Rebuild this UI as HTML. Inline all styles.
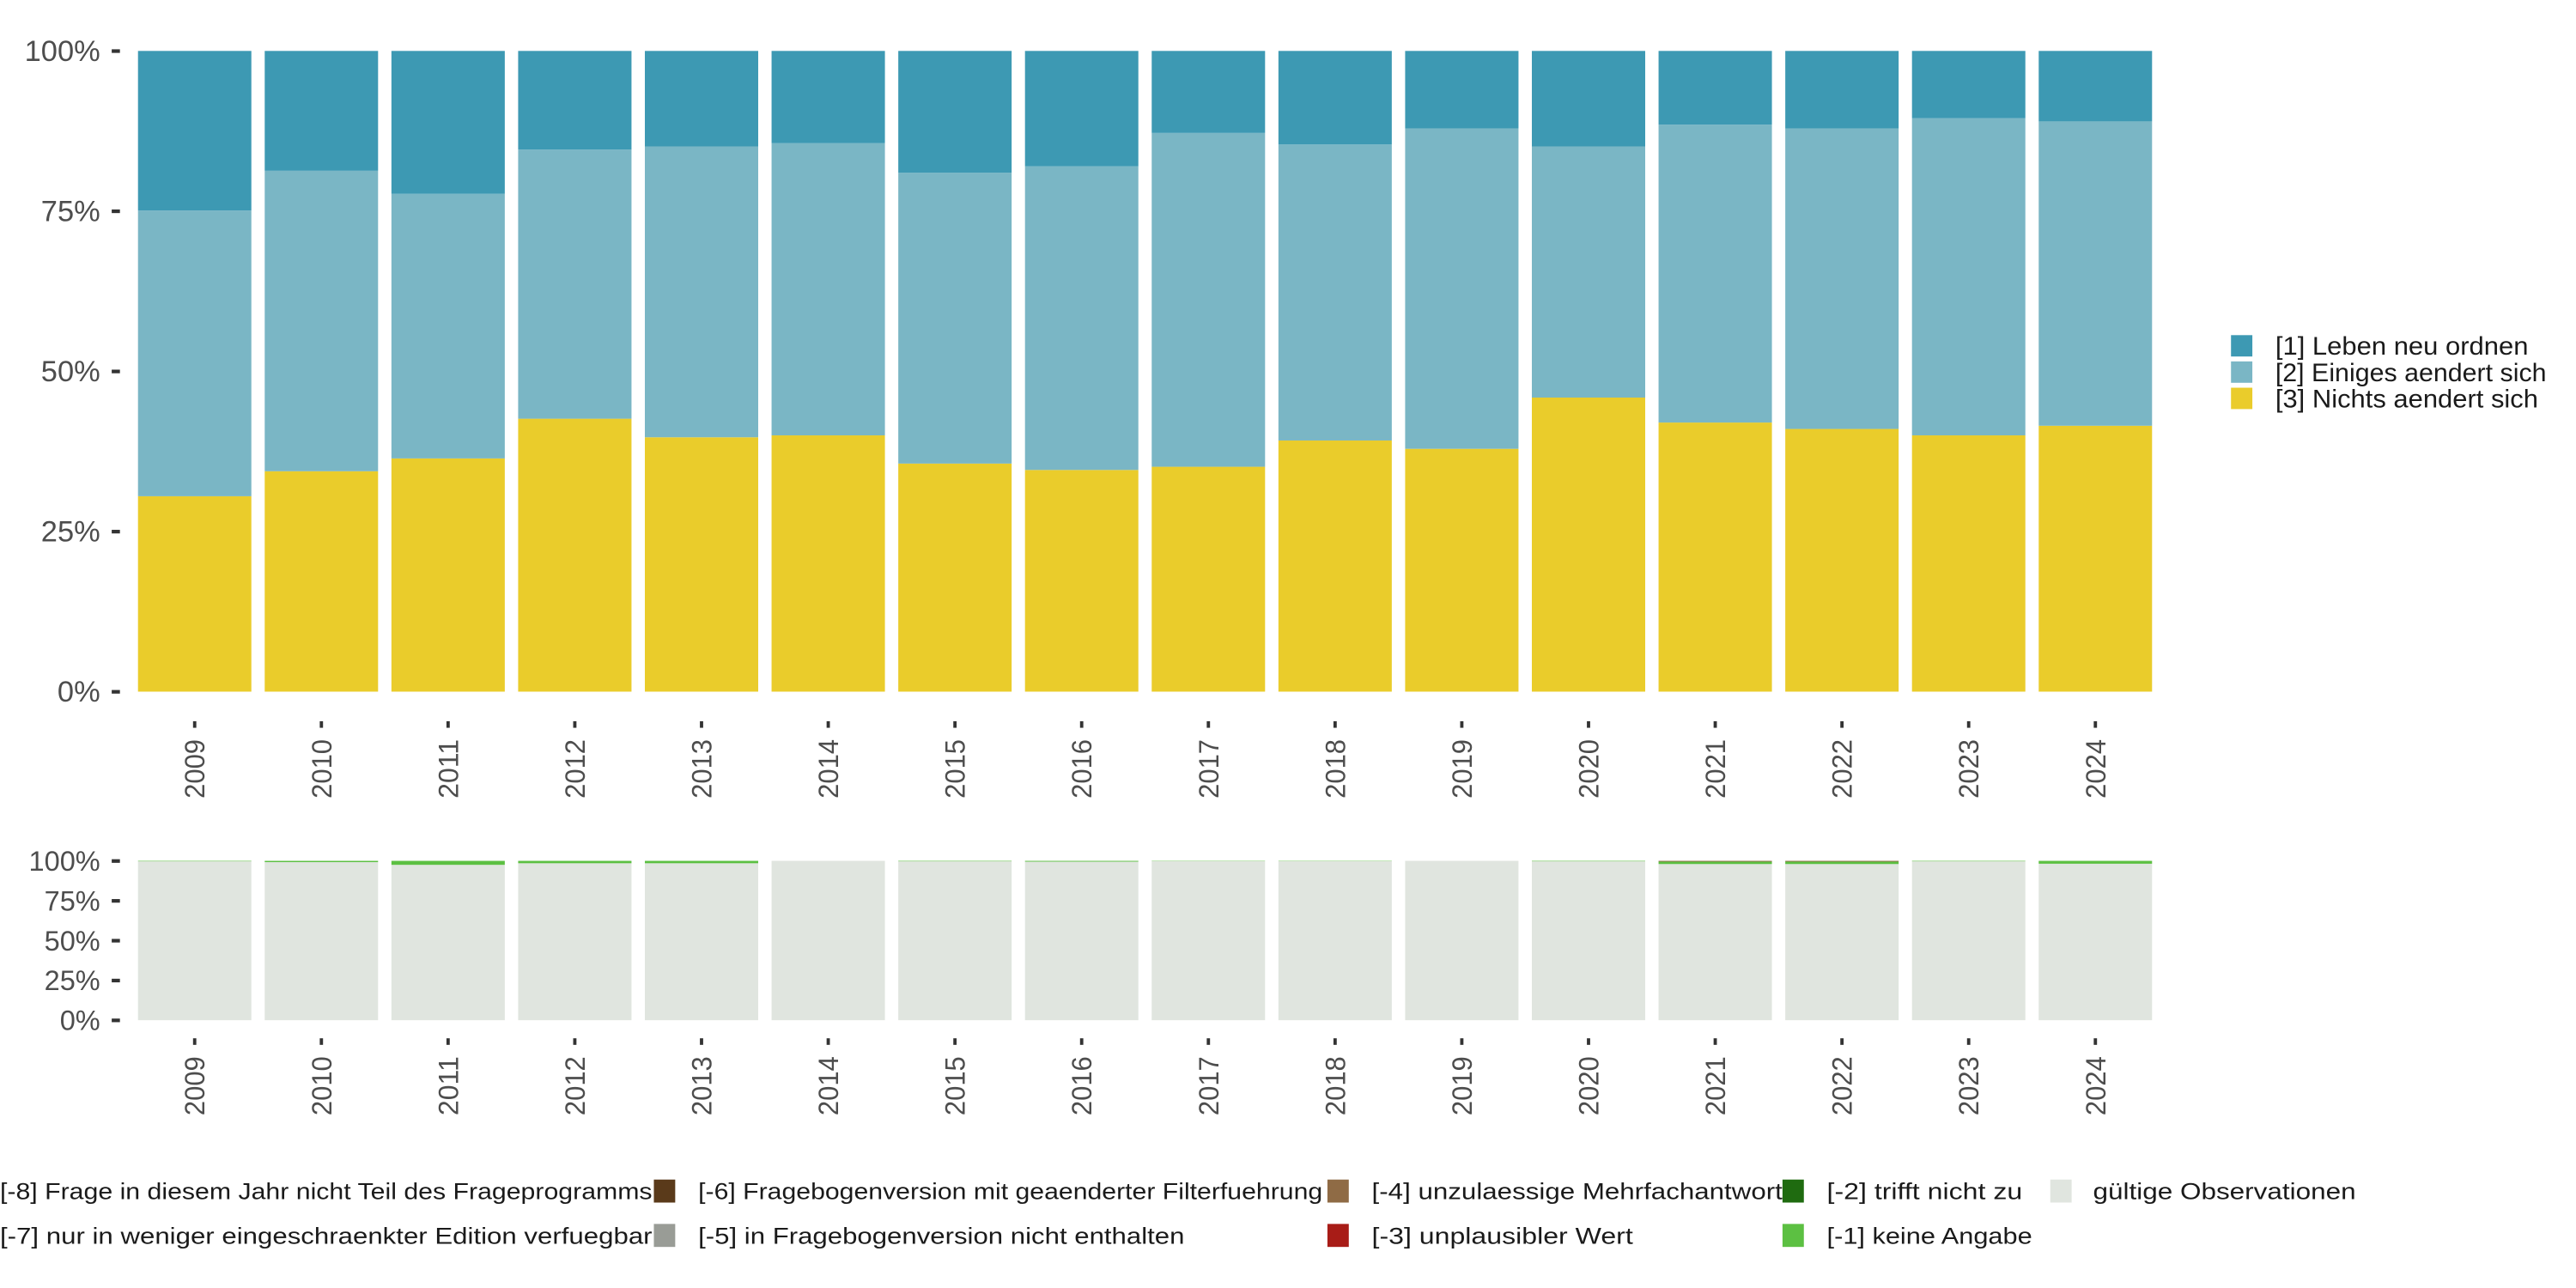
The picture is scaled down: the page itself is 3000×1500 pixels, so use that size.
<!DOCTYPE html>
<html><head><meta charset="utf-8"><style>
html,body{margin:0;padding:0;background:#fff;}
svg{display:block;font-family:"Liberation Sans","DejaVu Sans",sans-serif;}
</style></head><body>
<svg id="chart" width="3000" height="1500" viewBox="0 0 1568 784" xmlns="http://www.w3.org/2000/svg">
<g id="top"></g>
<g id="bot"></g>
<g id="legend-right">
  <rect x="1358" y="204" width="13" height="13" fill="#3d99b3"/>
  <rect x="1358" y="220" width="13" height="13" fill="#7ab6c5"/>
  <rect x="1358" y="236" width="13" height="13" fill="#eacc2b"/>
  <text x="1385" y="216" font-size="15.5" fill="#1a1a1a" textLength="154" lengthAdjust="spacingAndGlyphs">[1] Leben neu ordnen</text>
  <text x="1385" y="232" font-size="15.5" fill="#1a1a1a" textLength="165" lengthAdjust="spacingAndGlyphs">[2] Einiges aendert sich</text>
  <text x="1385" y="248" font-size="15.5" fill="#1a1a1a" textLength="160" lengthAdjust="spacingAndGlyphs">[3] Nichts aendert sich</text>
</g>
<g id="legend-bottom" font-size="14" fill="#1a1a1a">
  <text x="0" y="730" textLength="397" lengthAdjust="spacingAndGlyphs">[-8] Frage in diesem Jahr nicht Teil des Frageprogramms</text>
  <text x="0" y="757" textLength="397" lengthAdjust="spacingAndGlyphs">[-7] nur in weniger eingeschraenkter Edition verfuegbar</text>
  <rect x="398" y="718" width="13" height="14" fill="#5a3a1a"/>
  <rect x="398" y="745" width="13" height="14" fill="#999c96"/>
  <text x="425" y="730" textLength="380" lengthAdjust="spacingAndGlyphs">[-6] Fragebogenversion mit geaenderter Filterfuehrung</text>
  <text x="425" y="757" textLength="296" lengthAdjust="spacingAndGlyphs">[-5] in Fragebogenversion nicht enthalten</text>
  <rect x="808" y="718" width="13" height="14" fill="#8f6b45"/>
  <rect x="808" y="745" width="13" height="14" fill="#a81c17"/>
  <text x="835" y="730" textLength="250" lengthAdjust="spacingAndGlyphs">[-4] unzulaessige Mehrfachantwort</text>
  <text x="835" y="757" textLength="159" lengthAdjust="spacingAndGlyphs">[-3] unplausibler Wert</text>
  <rect x="1085" y="718" width="13" height="14" fill="#1f6b10"/>
  <rect x="1085" y="745" width="13" height="14" fill="#5cc042"/>
  <text x="1112" y="730" textLength="119" lengthAdjust="spacingAndGlyphs">[-2] trifft nicht zu</text>
  <text x="1112" y="757" textLength="125" lengthAdjust="spacingAndGlyphs">[-1] keine Angabe</text>
  <rect x="1248" y="718" width="13" height="14" fill="#e0e5df"/>
  <text x="1274" y="730" textLength="160" lengthAdjust="spacingAndGlyphs">gültige Observationen</text>
</g>
</svg>
<script>
const years = ["2009","2010","2011","2012","2013","2014","2015","2016","2017","2018","2019","2020","2021","2022","2023","2024"];
const nichts = [30.5,34.4,36.4,42.6,39.7,40.0,35.6,34.6,35.1,39.2,37.9,45.9,42.0,41.0,40.0,41.5];
const einiges = [44.6,46.9,41.3,42.0,45.4,45.6,45.4,47.4,52.1,46.2,50.0,39.2,46.5,46.9,49.5,47.5];
const leben = [24.9,18.7,22.3,15.4,14.9,14.4,19.0,18.0,12.8,14.6,12.1,14.9,11.5,12.1,10.5,11.0];
const keineAngabe = [0.3,0.8,2.5,1.5,1.5,0.0,0.3,0.5,0.2,0.2,0.0,0.3,1.5,1.5,0.3,1.8];
const mehrfach = [0,0,0,0,0,0,0,0,0,0,0,0,0.5,0.5,0,0];
const yTicks = [0,25,50,75,100];
const yTickLabels = ["0%","25%","50%","75%","100%"];

const NS="http://www.w3.org/2000/svg";
function mk(tag,attrs,parent){const e=document.createElementNS(NS,tag);for(const k in attrs)e.setAttribute(k,attrs[k]);parent.appendChild(e);return e;}
const x0=84, step=77.13, bw=69;
function xPos(i){return x0+i*step;}
function panel(g,yTop,yBot,series,colors,names,labelY,tickY,labelFs){
  const y=v=>yBot-(yBot-yTop)*v/100;
  years.forEach((yr,i)=>{
    let cum=0;
    series.forEach((s,k)=>{
      const v=s[i]; if(v<=0){return;}
      const r=mk('rect',{x:xPos(i),y:y(cum+v),width:bw,height:y(cum)-y(cum+v),fill:colors[k]},g);
      
      
      cum+=v;
    });
    const cx=xPos(i)+bw/2;
    const t=mk('rect',{x:cx-1,y:tickY,width:2,height:4,fill:'#333'},g);
    
    
    const lb=mk('text',{x:0,y:0,transform:`translate(${cx+6},${labelY}) rotate(-90)`,'text-anchor':'end','font-size':17,fill:'#4d4d4d',textLength:36,lengthAdjust:'spacingAndGlyphs'},g);
    lb.textContent=yr;
    
    
  });
  yTicks.forEach((v,j)=>{
    const tk=mk('rect',{x:68,y:y(v)-1,width:5,height:2.2,fill:'#333'},g);
    
    
    const tl=mk('text',{x:61,y:y(v)+6,'text-anchor':'end','font-size':labelFs,fill:'#4d4d4d'},g);
    tl.textContent=yTickLabels[j];
    
    
  });
}
const valid = years.map((_,i)=>100-keineAngabe[i]-mehrfach[i]);
panel(document.getElementById('top'),31,421,[nichts,einiges,leben],["#eacc2b","#7ab6c5","#3d99b3"],["nichts","einiges","leben"],450,439,18);
panel(document.getElementById('bot'),524,621,[valid,keineAngabe,mehrfach],["#e0e5df","#5cc042","#8f6b45"],["valid","keine-angabe","mehrfach"],643,632,17);
</script>
</body></html>
